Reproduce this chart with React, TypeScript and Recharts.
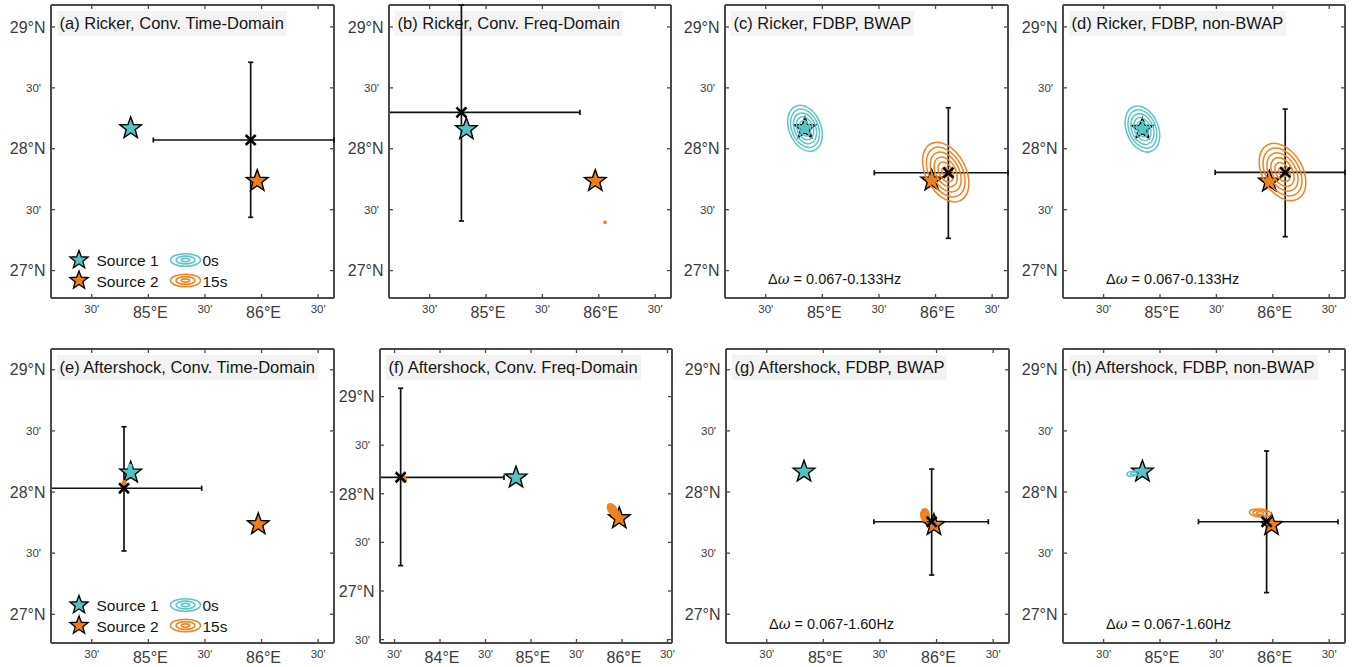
import React from 'react';
import { ScatterChart, Scatter, XAxis, YAxis, ErrorBar, Legend, ReferenceLine } from 'recharts';

// ---------------- data ----------------
const panelTitles = [
  '(a) Ricker, Conv. Time-Domain',
  '(b) Ricker, Conv. Freq-Domain',
  '(c) Ricker, FDBP, BWAP',
  '(d) Ricker, FDBP, non-BWAP',
  '(e) Aftershock, Conv. Time-Domain',
  '(f) Aftershock, Conv. Freq-Domain',
  '(g) Aftershock, FDBP, BWAP',
  '(h) Aftershock, FDBP, non-BWAP',
];
const bandwidths = ['', '', '0.067-0.133Hz', '0.067-0.133Hz', '', '', '0.067-1.60Hz', '0.067-1.60Hz'];
const legendPanels = [true, false, false, false, true, false, false, false];
const legendSources = ['Source 1', 'Source 2'];
const legendTimes = ['0s', '15s'];

const xTicksStd = [84.5, 85, 85.5, 86, 86.5];
const xTickLabelsStd = ["30'", '85°E', "30'", '86°E', "30'"];
const xTicksF = [83.5, 84, 84.5, 85, 85.5, 86, 86.5];
const xTickLabelsF = ["30'", '84°E', "30'", '85°E', "30'", '86°E', "30'"];
const yTicksStd = [27, 27.5, 28, 28.5, 29];
const yTickLabelsStd = ['27°N', "30'", '28°N', "30'", '29°N'];
const yTicksF = [26.5, 27, 27.5, 28, 28.5, 29];
const yTickLabelsF = ["30'", '27°N', "30'", '28°N', "30'", '29°N'];

const xDomainStd: [number, number] = [84.14, 86.64];
const yDomainRow1: [number, number] = [26.775, 29.18];
const yDomainRow2: [number, number] = [26.765, 29.17];
const xDomainF: [number, number] = [83.34, 86.55];
const yDomainF: [number, number] = [26.465, 29.49];

// true sources (per panel, lon / lat)
const src1Lon = [84.844, 84.826, 84.847, 84.844, 84.844, 84.835, 84.829, 84.844];
const src1Lat = [28.168, 28.16, 28.168, 28.162, 28.158, 28.166, 28.166, 28.166];
const src2Lon = [85.962, 85.969, 85.966, 85.969, 85.971, 85.97, 85.977, 85.989];
const src2Lat = [27.735, 27.735, 27.738, 27.73, 27.736, 27.748, 27.73, 27.73];

// estimated location with uncertainty ranges
const estLon = [85.904, 84.782, 86.113, 86.11, 84.785, 83.567, 85.957, 85.945];
const estLat = [28.072, 28.299, 27.803, 27.806, 28.031, 28.17, 27.757, 27.757];
const estLonLow = [85.044, 83.9, 85.459, 85.489, 83.9, 83.2, 85.447, 85.341];
const estLonHigh = [86.8, 85.833, 86.8, 86.8, 85.471, 84.703, 86.457, 86.578];
const estLatLow = [27.437, 27.407, 27.265, 27.278, 27.518, 27.261, 27.321, 27.177];
const estLatHigh = [28.71, 29.4, 28.337, 28.326, 28.534, 29.086, 28.188, 28.336];

type Contour = { x: number; y: number; major: number; minor: number; angle: number; levels: number };
// 0 s back-projection contours (source 1)
const contours0s: Contour[][] = [
  [],
  [],
  [{ x: 84.847, y: 28.168, major: 0.197, minor: 0.131, angle: -22, levels: 6 }],
  [{ x: 84.844, y: 28.162, major: 0.197, minor: 0.131, angle: -22, levels: 6 }],
  [{ x: 84.838, y: 28.205, major: 0.02, minor: 0.014, angle: 0, levels: 2 }],
  [],
  [],
  [{ x: 84.767, y: 28.152, major: 0.057, minor: 0.02, angle: 82, levels: 2 }],
];
// 15 s back-projection contours (source 2)
const contours15s: Contour[][] = [
  [],
  [{ x: 86.055, y: 27.396, major: 0.01, minor: 0.01, angle: 0, levels: 1 }],
  [{ x: 86.09, y: 27.809, major: 0.263, minor: 0.164, angle: -28, levels: 6 }],
  [{ x: 86.086, y: 27.809, major: 0.255, minor: 0.165, angle: -30, levels: 6 }],
  [{ x: 84.785, y: 28.07, major: 0.025, minor: 0.015, angle: 0, levels: 2 }],
  [
    { x: 85.897, y: 27.834, major: 0.072, minor: 0.041, angle: -35, levels: 8 },
    { x: 83.604, y: 28.153, major: 0.036, minor: 0.02, angle: -20, levels: 4 },
  ],
  [{ x: 85.898, y: 27.812, major: 0.052, minor: 0.035, angle: -5, levels: 8 }],
  [{ x: 85.889, y: 27.828, major: 0.09, minor: 0.033, angle: 95, levels: 3 }],
];

// ---------------- layout / style ----------------
const boxes = [
  { x: 51, y: 5, w: 283, h: 293 },
  { x: 389, y: 5, w: 282, h: 293 },
  { x: 725, y: 5, w: 283, h: 293 },
  { x: 1063, y: 5, w: 282, h: 293 },
  { x: 51, y: 349, w: 283, h: 294 },
  { x: 380, y: 349, w: 292, h: 294 },
  { x: 726, y: 349, w: 283, h: 294 },
  { x: 1063, y: 349, w: 282, h: 294 },
];
const FONT = '"Liberation Sans", Arial, Helvetica, sans-serif';
const FRAME = '#4a4a4a';
const LABEL = '#3c3c3c';
const CYAN = '#55c2c2';
const ORANGE = '#ec7e1a';
const CONT_CYAN = '#5ec6c6';
const CONT_ORANGE = '#ef8422';
const ML = 52, MT = 6, MR = 10, MB = 26;

function starPath(cx: number, cy: number, R: number, r: number) {
  const pts: string[] = [];
  for (let k = 0; k < 10; k++) {
    const ang = ((-90 + k * 36) * Math.PI) / 180;
    const rad = k % 2 === 0 ? R : r;
    pts.push(`${(cx + rad * Math.cos(ang)).toFixed(2)},${(cy + rad * Math.sin(ang)).toFixed(2)}`);
  }
  return 'M' + pts.join('L') + 'Z';
}

const starShape = (fill: string) => (p: any) => (
  <path d={starPath(p.cx, p.cy, 11.4, 4.7)} fill={fill} stroke="#000" strokeWidth={1.4} strokeLinejoin="miter" />
);

const crossShape = (p: any) => (
  <g stroke="#000" strokeWidth={2.6} strokeLinecap="butt">
    <line x1={p.cx - 5} y1={p.cy - 5} x2={p.cx + 5} y2={p.cy + 5} />
    <line x1={p.cx - 5} y1={p.cy + 5} x2={p.cx + 5} y2={p.cy - 5} />
  </g>
);

const emptyShape = () => <g />;

const contourShape = (color: string, pxPerDeg: number) => (p: any) => {
  const d = p.payload as Contour;
  const A = Math.max(d.major * pxPerDeg, 1);
  const B = Math.max(d.minor * pxPerDeg, 1);
  const n = d.levels;
  return (
    <g transform={`rotate(${d.angle} ${p.cx} ${p.cy})`}>
      {Array.from({ length: n }, (_, k) => {
        const s = 1 - k / n;
        return (
          <ellipse key={k} cx={p.cx} cy={p.cy} rx={B * s} ry={A * s} fill="none" stroke={color} strokeWidth={1.5} />
        );
      })}
    </g>
  );
};

const isMinor = (lab: string) => lab.indexOf("'") >= 0;

// bottom axis ticks (also draws the mirrored inward tick on the top frame)
const bottomTick = (ticks: number[], labels: string[], plotH: number) => (p: any) => {
  const idx = ticks.indexOf(p.payload.value);
  const lab = labels[idx] ?? '';
  const minor = isMinor(lab);
  return (
    <g>
      <line x1={p.x} x2={p.x} y1={p.y} y2={p.y - 4} stroke={FRAME} strokeWidth={1.3} />
      <line x1={p.x} x2={p.x} y1={p.y - plotH} y2={p.y - plotH + 4} stroke={FRAME} strokeWidth={1.3} />
      <text x={p.x + (minor ? 0 : 2)} y={p.y + (minor ? 15 : 19.5)} textAnchor="middle" fontSize={minor ? 11.5 : 16} fill={LABEL} fontFamily={FONT}>
        {lab}
      </text>
    </g>
  );
};
// left axis ticks (also draws the mirrored inward tick on the right frame)
const leftTick = (ticks: number[], labels: string[], plotW: number) => (p: any) => {
  const idx = ticks.indexOf(p.payload.value);
  const lab = labels[idx] ?? '';
  const minor = isMinor(lab);
  return (
    <g>
      <line x1={p.x} x2={p.x + 4} y1={p.y} y2={p.y} stroke={FRAME} strokeWidth={1.3} />
      <line x1={p.x + plotW} x2={p.x + plotW - 4} y1={p.y} y2={p.y} stroke={FRAME} strokeWidth={1.3} />
      <text x={p.x - (minor ? 10 : 5.5)} y={p.y + (minor ? 4 : 5.7)} textAnchor="end" fontSize={minor ? 11.5 : 16} fill={LABEL} fontFamily={FONT}>
        {lab}
      </text>
    </g>
  );
};

const renderLegend = () => (
  <svg width={170} height={46} style={{ display: 'block', overflow: 'visible' }}>
    {legendSources.map((s, k) => {
      const cy = 12 + k * 20.5;
      const col = k === 0 ? CONT_CYAN : CONT_ORANGE;
      return (
        <g key={s}>
          <path d={starPath(12, cy, 9.6, 4)} fill={k === 0 ? CYAN : ORANGE} stroke="#000" strokeWidth={1.3} />
          <text x={29.5} y={cy + 6} fontSize={15.5} fontFamily={FONT} fill="#151515">{s}</text>
          <ellipse cx={118.5} cy={cy} rx={15} ry={6.3} fill="none" stroke={col} strokeWidth={1.6} />
          <ellipse cx={118.5} cy={cy} rx={9.5} ry={3.9} fill="none" stroke={col} strokeWidth={1.6} />
          <ellipse cx={118.5} cy={cy} rx={4.2} ry={1.6} fill="none" stroke={col} strokeWidth={1.6} />
          <text x={135.5} y={cy + 6} fontSize={15.5} fontFamily={FONT} fill="#151515">{legendTimes[k]}</text>
        </g>
      );
    })}
  </svg>
);

const clamp = (v: number, lo: number, hi: number) => Math.min(hi, Math.max(lo, v));

function Panel({ i }: { i: number }) {
  const box = boxes[i];
  const isF = i === 5;
  const xd = isF ? xDomainF : xDomainStd;
  const yd = isF ? yDomainF : i < 4 ? yDomainRow1 : yDomainRow2;
  const xt = isF ? xTicksF : xTicksStd;
  const xl = isF ? xTickLabelsF : xTickLabelsStd;
  const yt = isF ? yTicksF : yTicksStd;
  const yl = isF ? yTickLabelsF : yTickLabelsStd;
  const W = box.w + ML + MR;
  const H = box.h + MT + MB;
  const pxPerDeg = box.h / (yd[1] - yd[0]);
  const axisLine = { stroke: FRAME, strokeWidth: 2 };

  // error ranges are clipped at the map frame
  const xLo = clamp(estLonLow[i], xd[0], xd[1]);
  const xHi = clamp(estLonHigh[i], xd[0], xd[1]);
  const yLo = clamp(estLatLow[i], yd[0], yd[1]);
  const yHi = clamp(estLatHigh[i], yd[0], yd[1]);
  const estData = [
    {
      x: estLon[i],
      y: estLat[i],
      ex: [estLon[i] - xLo, xHi - estLon[i]],
      ey: [estLat[i] - yLo, yHi - estLat[i]],
    },
  ];
  const s1 = [{ x: src1Lon[i], y: src1Lat[i] }];
  const s2 = [{ x: src2Lon[i], y: src2Lat[i] }];

  return (
    <div style={{ position: 'absolute', left: box.x - ML, top: box.y - MT, width: W, height: H }}>
      <div
        style={{
          position: 'absolute',
          left: ML + 5.5,
          top: MT + 6,
          height: 25,
          lineHeight: '25px',
          padding: '0 3px',
          background: '#f3f3f3',
          fontFamily: FONT,
          fontSize: 16.5,
          color: '#161616',
          whiteSpace: 'nowrap',
        }}
      >
        {panelTitles[i]}
      </div>
      {bandwidths[i] && (
        <div
          style={{
            position: 'absolute',
            left: ML + 43,
            top: MT + box.h - 29,
            lineHeight: '20px',
            fontFamily: FONT,
            fontSize: 14.5,
            color: '#151515',
            whiteSpace: 'nowrap',
          }}
        >
          Δ<span style={{ fontFamily: '"DejaVu Serif", "Liberation Serif", serif', fontStyle: 'italic' }}>ω</span> = {bandwidths[i]}
        </div>
      )}
      <ScatterChart width={W} height={H} margin={{ top: MT, right: MR, bottom: 0, left: 0 }}>
        <XAxis xAxisId="b" type="number" dataKey="x" domain={xd} ticks={xt} interval={0} allowDataOverflow orientation="bottom" height={MB} tickSize={0} tickMargin={0} tickLine={false} axisLine={axisLine} tick={bottomTick(xt, xl, box.h)} />
        <YAxis yAxisId="l" type="number" dataKey="y" domain={yd} ticks={yt} interval={0} allowDataOverflow orientation="left" width={ML} tickSize={0} tickMargin={0} tickLine={false} axisLine={axisLine} tick={leftTick(yt, yl, box.w)} />
        <ReferenceLine xAxisId="b" yAxisId="l" y={yd[1]} stroke={FRAME} strokeWidth={2} />
        <ReferenceLine xAxisId="b" yAxisId="l" x={xd[1]} stroke={FRAME} strokeWidth={2} />

        <Scatter xAxisId="b" yAxisId="l" data={estData} shape={emptyShape} isAnimationActive={false}>
          <ErrorBar dataKey="ex" direction="x" width={2.6} stroke="#111" strokeWidth={1.7} isAnimationActive={false} />
          <ErrorBar dataKey="ey" direction="y" width={2.6} stroke="#111" strokeWidth={1.7} isAnimationActive={false} />
        </Scatter>
        <Scatter xAxisId="b" yAxisId="l" data={s1} shape={starShape(CYAN)} isAnimationActive={false} />
        <Scatter xAxisId="b" yAxisId="l" data={s2} shape={starShape(ORANGE)} isAnimationActive={false} />
        <Scatter xAxisId="b" yAxisId="l" data={contours0s[i]} shape={contourShape(CONT_CYAN, pxPerDeg)} isAnimationActive={false} />
        <Scatter xAxisId="b" yAxisId="l" data={contours15s[i]} shape={contourShape(CONT_ORANGE, pxPerDeg)} isAnimationActive={false} />
        <Scatter xAxisId="b" yAxisId="l" data={estData} shape={crossShape} isAnimationActive={false} />

        {legendPanels[i] && (
          <Legend
            content={renderLegend}
            layout="horizontal"
            verticalAlign="middle"
            align="center"
            wrapperStyle={{ left: ML + 16, top: MT + box.h - 50.5, width: 170, height: 46 }}
          />
        )}
      </ScatterChart>
    </div>
  );
}

export default function App() {
  return (
    <div style={{ position: 'absolute', left: 0, top: 0, width: 1354, height: 667, background: '#fff', overflow: 'hidden' }}>
      {boxes.map((_, i) => (
        <Panel key={i} i={i} />
      ))}
    </div>
  );
}
